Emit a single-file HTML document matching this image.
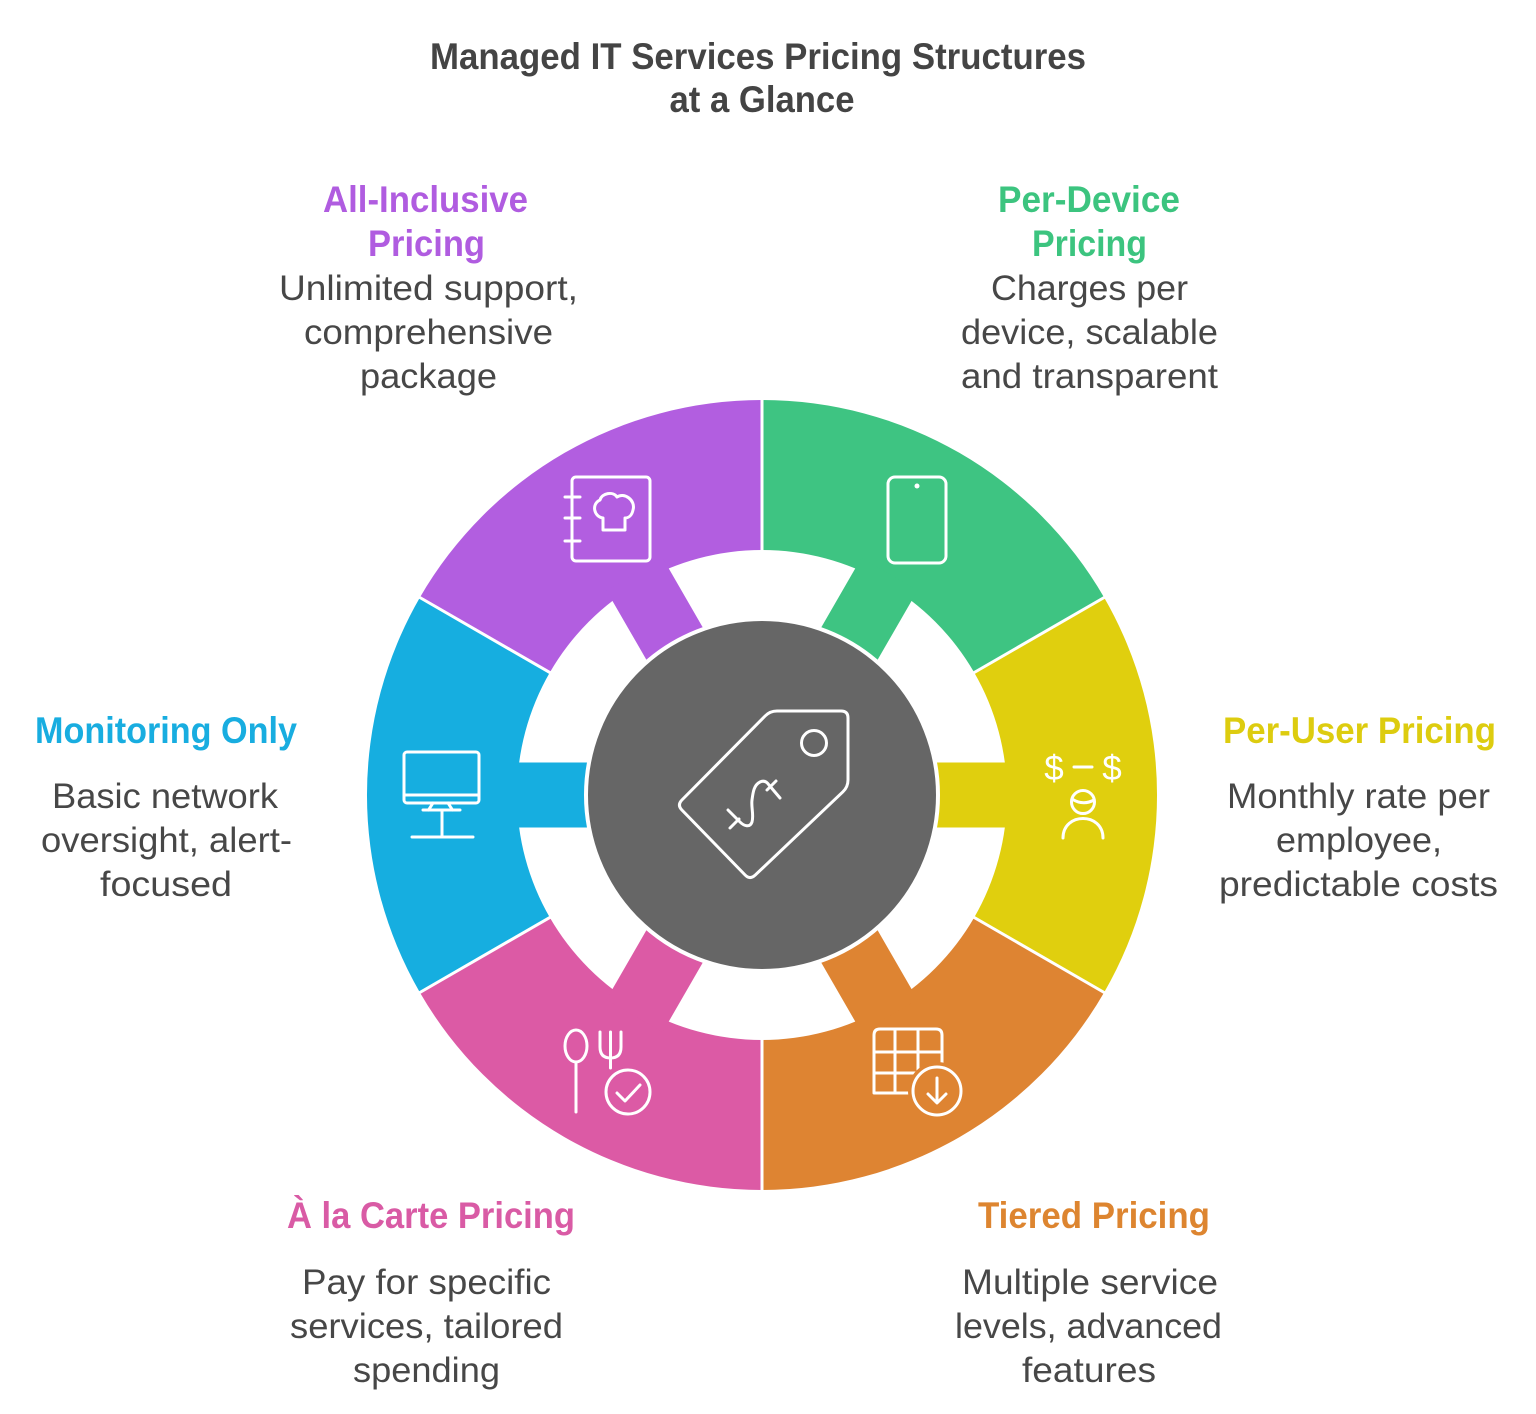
<!DOCTYPE html>
<html>
<head>
<meta charset="utf-8">
<style>
  html, body { margin: 0; padding: 0; background: #ffffff; }
  svg { display: block; }
  .t { font-family: "Liberation Sans", Arial, sans-serif; text-anchor: middle; }
  .ttl { font-weight: bold; font-size: 37px; fill: #444444; }
  .h { font-weight: bold; font-size: 37px; }
  .d { font-size: 35px; fill: #474747; }
  .ic { fill: none; stroke: #ffffff; stroke-width: 3; stroke-linecap: round; stroke-linejoin: round; }
</style>
</head>
<body>
<svg width="1536" height="1414" viewBox="0 0 1536 1414" xmlns="http://www.w3.org/2000/svg">
  <rect x="0" y="0" width="1536" height="1414" fill="#ffffff"/>

  <!-- Title -->
  <text class="t ttl" x="758" y="69" textLength="656" lengthAdjust="spacingAndGlyphs">Managed IT Services Pricing Structures</text>
  <text class="t ttl" x="762" y="112" textLength="185" lengthAdjust="spacingAndGlyphs">at a Glance</text>

  <!-- Ring segments -->
  <path d="M1104.1 597.5 A395 395 0 0 0 762 400 L762 550 A245 245 0 0 1 974.2 672.5 Z" fill="#3EC482"/>
  <rect x="165" y="-32.5" width="90" height="65" fill="#3EC482" transform="translate(762 795) rotate(-60)"/>
  <path d="M762 400 A395 395 0 0 0 419.9 597.5 L549.8 672.5 A245 245 0 0 1 762 550 Z" fill="#B25EE0"/>
  <rect x="165" y="-32.5" width="90" height="65" fill="#B25EE0" transform="translate(762 795) rotate(-120)"/>
  <path d="M419.9 597.5 A395 395 0 0 0 419.9 992.5 L549.8 917.5 A245 245 0 0 1 549.8 672.5 Z" fill="#16AEE0"/>
  <rect x="165" y="-32.5" width="90" height="65" fill="#16AEE0" transform="translate(762 795) rotate(-180)"/>
  <path d="M419.9 992.5 A395 395 0 0 0 762 1190 L762 1040 A245 245 0 0 1 549.8 917.5 Z" fill="#DC5AA5"/>
  <rect x="165" y="-32.5" width="90" height="65" fill="#DC5AA5" transform="translate(762 795) rotate(-240)"/>
  <path d="M762 1190 A395 395 0 0 0 1104.1 992.5 L974.2 917.5 A245 245 0 0 1 762 1040 Z" fill="#DE8432"/>
  <rect x="165" y="-32.5" width="90" height="65" fill="#DE8432" transform="translate(762 795) rotate(-300)"/>
  <path d="M1104.1 992.5 A395 395 0 0 0 1104.1 597.5 L974.2 672.5 A245 245 0 0 1 974.2 917.5 Z" fill="#E0CF0E"/>
  <rect x="165" y="-32.5" width="90" height="65" fill="#E0CF0E" transform="translate(762 795) rotate(0)"/>

  <!-- Separators -->
  <g stroke="#ffffff" stroke-width="3">
    <line x1="762" y1="795" x2="762" y2="395"/>
    <line x1="762" y1="795" x2="762" y2="1195"/>
    <line x1="762" y1="795" x2="1108.5" y2="595"/>
    <line x1="762" y1="795" x2="1108.5" y2="995"/>
    <line x1="762" y1="795" x2="415.5" y2="595"/>
    <line x1="762" y1="795" x2="415.5" y2="995"/>
  </g>

  <!-- Center circle -->
  <circle cx="762" cy="795" r="176" fill="#666666" stroke="#ffffff" stroke-width="4"/>

  <!-- Center tag icon -->
  <path class="ic" d="M777 711 L841 711 Q848 711 848 718 L848 780 Q848 787 842.9 791.8 L755.1 875.2 Q750 880 745.1 875 L681.9 810 Q677 805 681.9 800 L765.1 716 Q770 711 777 711 Z"/>
  <circle class="ic" cx="814" cy="743" r="12.5"/>
  <path class="ic" d="M728 810 L740 822 C744 826 750 828 752 822 C754 815 751 807 752 800 C753 792 754 785 760 782 C764 780 767 782 769 785 L780 798"/>
  <line class="ic" x1="730" y1="828" x2="739" y2="819"/>
  <line class="ic" x1="767" y1="790" x2="776" y2="781"/>

  <!-- Purple icon: recipe book with chef hat -->
  <rect class="ic" x="572" y="477" width="78" height="84" rx="4"/>
  <line class="ic" x1="565" y1="497" x2="580" y2="497"/>
  <line class="ic" x1="565" y1="518" x2="580" y2="518"/>
  <line class="ic" x1="565" y1="541" x2="580" y2="541"/>
  <path class="ic" d="M603 518 C594 517 591 504 600 500 C602 493 613 491 617 497 C624 492 636 500 633 510 C632 515 629 518 625 518 L625 530 L603 530 Z"/>

  <!-- Green icon: phone -->
  <rect class="ic" x="888" y="477" width="58" height="86" rx="7"/>
  <circle cx="917" cy="486" r="2.5" fill="#ffffff"/>

  <!-- Yellow icon -->
  <text x="1054" y="780" font-family="Liberation Sans, Arial, sans-serif" font-size="35" fill="#ffffff" text-anchor="middle">$</text>
  <text x="1112" y="780" font-family="Liberation Sans, Arial, sans-serif" font-size="35" fill="#ffffff" text-anchor="middle">$</text>
  <line class="ic" x1="1074" y1="767" x2="1092" y2="767"/>
  <circle class="ic" cx="1083" cy="802" r="11.5"/>
  <path class="ic" d="M1072 799 Q1083 806 1094 800"/>
  <path class="ic" d="M1063 838 C1063 812 1103 812 1103 838"/>

  <!-- Blue icon: monitor -->
  <rect class="ic" x="404" y="752" width="75" height="51" rx="3"/>
  <line class="ic" x1="405" y1="795" x2="478" y2="795"/>
  <line class="ic" x1="433" y1="803" x2="428.5" y2="810"/>
  <line class="ic" x1="448" y1="803" x2="452.5" y2="810"/>
  <line class="ic" x1="423" y1="810" x2="460" y2="810"/>
  <line class="ic" x1="442" y1="810" x2="442" y2="837"/>
  <line class="ic" x1="412" y1="837" x2="473" y2="837"/>

  <!-- Pink icon -->
  <ellipse class="ic" cx="576" cy="1046" rx="11" ry="16"/>
  <line class="ic" x1="576" y1="1062" x2="576" y2="1112"/>
  <path class="ic" d="M600 1032 L600 1047 Q600 1058 610.5 1058 Q621 1058 621 1047 L621 1032"/>
  <line class="ic" x1="610.5" y1="1032" x2="610.5" y2="1068"/>
  <circle class="ic" cx="628" cy="1092" r="22"/>
  <path class="ic" d="M617 1093 L625 1101 L640 1085"/>

  <!-- Orange icon -->
  <path class="ic" d="M874 1093 L874 1035 Q874 1029 880 1029 L936 1029 Q942 1029 942 1035 L942 1093 Z"/>
  <line class="ic" x1="895" y1="1029" x2="895" y2="1093"/>
  <line class="ic" x1="918" y1="1029" x2="918" y2="1093"/>
  <line class="ic" x1="874" y1="1052" x2="942" y2="1052"/>
  <line class="ic" x1="874" y1="1073" x2="942" y2="1073"/>
  <circle cx="937" cy="1091" r="29" fill="#DE8432"/>
  <circle class="ic" cx="937" cy="1091" r="24"/>
  <line class="ic" x1="937" y1="1078" x2="937" y2="1102"/>
  <path class="ic" d="M928 1094 L937 1103 L946 1094"/>

  <!-- All-Inclusive Pricing -->
  <text class="t h" fill="#B05CE0" x="425.5" y="212" textLength="205" lengthAdjust="spacingAndGlyphs">All-Inclusive</text>
  <text class="t h" fill="#B05CE0" x="426.5" y="256" textLength="117" lengthAdjust="spacingAndGlyphs">Pricing</text>
  <text class="t d" x="428.5" y="300" textLength="299" lengthAdjust="spacingAndGlyphs">Unlimited support,</text>
  <text class="t d" x="428.5" y="344" textLength="249" lengthAdjust="spacingAndGlyphs">comprehensive</text>
  <text class="t d" x="428.5" y="388" textLength="137" lengthAdjust="spacingAndGlyphs">package</text>

  <!-- Per-Device Pricing -->
  <text class="t h" fill="#3CC47F" x="1089" y="212" textLength="182" lengthAdjust="spacingAndGlyphs">Per-Device</text>
  <text class="t h" fill="#3CC47F" x="1089.5" y="256" textLength="115" lengthAdjust="spacingAndGlyphs">Pricing</text>
  <text class="t d" x="1089.5" y="300" textLength="197" lengthAdjust="spacingAndGlyphs">Charges per</text>
  <text class="t d" x="1089.5" y="344" textLength="257" lengthAdjust="spacingAndGlyphs">device, scalable</text>
  <text class="t d" x="1089.5" y="388" textLength="257" lengthAdjust="spacingAndGlyphs">and transparent</text>

  <!-- Monitoring Only -->
  <text class="t h" fill="#18ADE0" x="166" y="743" textLength="262" lengthAdjust="spacingAndGlyphs">Monitoring Only</text>
  <text class="t d" x="165" y="808" textLength="226" lengthAdjust="spacingAndGlyphs">Basic network</text>
  <text class="t d" x="166.5" y="852" textLength="251" lengthAdjust="spacingAndGlyphs">oversight, alert-</text>
  <text class="t d" x="166" y="896" textLength="132" lengthAdjust="spacingAndGlyphs">focused</text>

  <!-- Per-User Pricing -->
  <text class="t h" fill="#DDCC0F" x="1359.5" y="743" textLength="273" lengthAdjust="spacingAndGlyphs">Per-User Pricing</text>
  <text class="t d" x="1358.5" y="808" textLength="263" lengthAdjust="spacingAndGlyphs">Monthly rate per</text>
  <text class="t d" x="1359" y="852" textLength="166" lengthAdjust="spacingAndGlyphs">employee,</text>
  <text class="t d" x="1358.5" y="896" textLength="279" lengthAdjust="spacingAndGlyphs">predictable costs</text>

  <!-- À la Carte Pricing -->
  <text class="t h" fill="#D95BA5" x="431" y="1228" textLength="288" lengthAdjust="spacingAndGlyphs">À la Carte Pricing</text>
  <text class="t d" x="426.5" y="1294" textLength="249" lengthAdjust="spacingAndGlyphs">Pay for specific</text>
  <text class="t d" x="426.5" y="1338" textLength="273" lengthAdjust="spacingAndGlyphs">services, tailored</text>
  <text class="t d" x="426.5" y="1382" textLength="147" lengthAdjust="spacingAndGlyphs">spending</text>

  <!-- Tiered Pricing -->
  <text class="t h" fill="#DD8530" x="1094" y="1228" textLength="232" lengthAdjust="spacingAndGlyphs">Tiered Pricing</text>
  <text class="t d" x="1090" y="1294" textLength="256" lengthAdjust="spacingAndGlyphs">Multiple service</text>
  <text class="t d" x="1088.5" y="1338" textLength="267" lengthAdjust="spacingAndGlyphs">levels, advanced</text>
  <text class="t d" x="1089" y="1382" textLength="134" lengthAdjust="spacingAndGlyphs">features</text>
</svg>
</body>
</html>
